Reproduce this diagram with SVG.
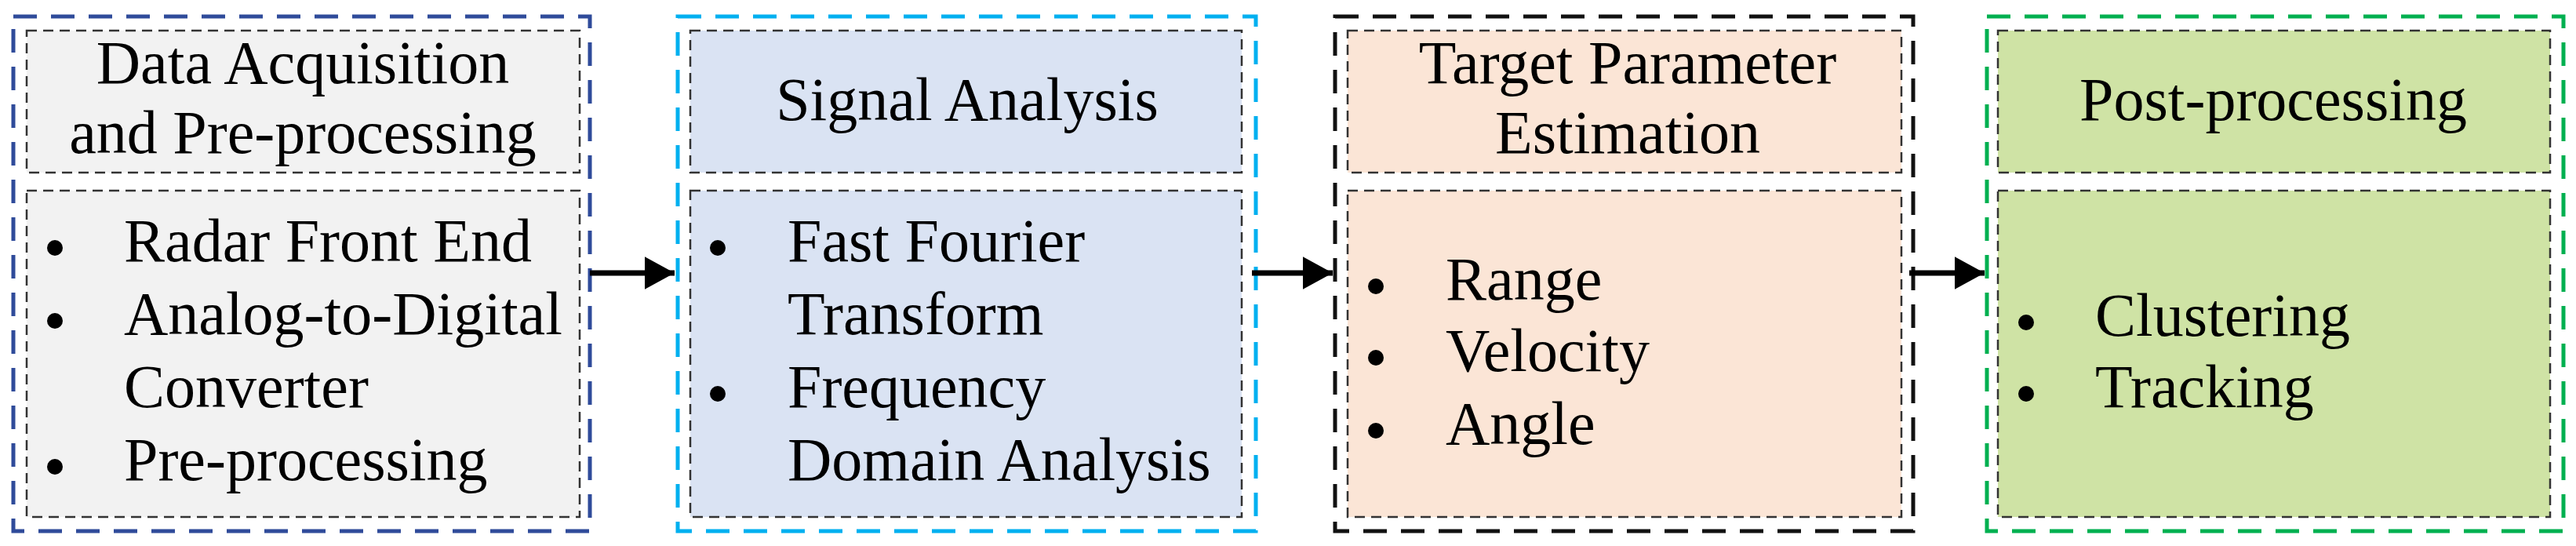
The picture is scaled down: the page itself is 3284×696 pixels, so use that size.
<svg xmlns="http://www.w3.org/2000/svg" width="3284" height="696" viewBox="0 0 3284 696">
<style>
.o{fill:none;stroke-width:5;stroke-dasharray:30 18}
.i{stroke:#333;stroke-width:2.5;stroke-dasharray:13 8}
text{font-family:'Liberation Serif','Times New Roman','DejaVu Serif',serif;font-size:78px;fill:#000}
.c{text-anchor:middle}
</style>
<defs><marker id="ah" markerWidth="6" markerHeight="6" refX="5.5" refY="3" orient="auto" markerUnits="strokeWidth"><path d="M0,0 L5.5,3 L0,6 Z" fill="#000"/></marker></defs>
<rect width="3284" height="696" fill="#fff"/>
<g id="n1">
<rect class="o" x="17" y="21" width="735" height="656" stroke="#2f4b9a"/>
<rect class="i" x="34" y="39" width="705" height="181" fill="#f2f2f2"/>
<rect class="i" x="34" y="243" width="705" height="416" fill="#f2f2f2"/>
<text class="c" x="386" y="106">Data Acquisition</text>
<text class="c" x="386" y="195">and Pre-processing</text>
<circle cx="70" cy="316" r="10"/><circle cx="70" cy="409" r="10"/><circle cx="70" cy="595" r="10"/>
<text x="158" y="333">Radar Front End</text>
<text x="158" y="426">Analog-to-Digital</text>
<text x="158" y="519">Converter</text>
<text x="158" y="612">Pre-processing</text>
</g>
<g id="n2">
<rect class="o" x="864" y="21" width="737" height="656" stroke="#00b0f0"/>
<rect class="i" x="880" y="39" width="703" height="181" fill="#dae3f3"/>
<rect class="i" x="880" y="243" width="703" height="416" fill="#dae3f3"/>
<text class="c" x="1233" y="153">Signal Analysis</text>
<circle cx="915" cy="316" r="10"/><circle cx="915" cy="502" r="10"/>
<text x="1004" y="333">Fast Fourier</text>
<text x="1004" y="426">Transform</text>
<text x="1004" y="519">Frequency</text>
<text x="1004" y="612">Domain Analysis</text>
</g>
<g id="n3">
<rect class="o" x="1702" y="21" width="737" height="656" stroke="#111"/>
<rect class="i" x="1718" y="39" width="706" height="181" fill="#fbe5d6"/>
<rect class="i" x="1718" y="243" width="706" height="416" fill="#fbe5d6"/>
<text class="c" x="2075" y="106">Target Parameter</text>
<text class="c" x="2075" y="195">Estimation</text>
<circle cx="1754" cy="365" r="10"/><circle cx="1754" cy="456" r="10"/><circle cx="1754" cy="549" r="10"/>
<text x="1843" y="382">Range</text>
<text x="1843" y="473">Velocity</text>
<text x="1843" y="566">Angle</text>
</g>
<g id="n4">
<rect class="o" x="2533" y="21" width="735" height="656" stroke="#00b050"/>
<rect class="i" x="2547" y="39" width="704" height="181" fill="#cfe3a5"/>
<rect class="i" x="2547" y="243" width="704" height="416" fill="#cfe3a5"/>
<text class="c" x="2898" y="153">Post-processing</text>
<circle cx="2583" cy="411" r="10"/><circle cx="2583" cy="502" r="10"/>
<text x="2671" y="428">Clustering</text>
<text x="2671" y="519">Tracking</text>
</g>
<g id="connectors" stroke="#000" stroke-width="7" fill="none">
<line x1="752" y1="348" x2="860" y2="348" marker-end="url(#ah)"/>
<line x1="1596" y1="348" x2="1699" y2="348" marker-end="url(#ah)"/>
<line x1="2434" y1="348" x2="2530" y2="348" marker-end="url(#ah)"/>
</g>
</svg>
